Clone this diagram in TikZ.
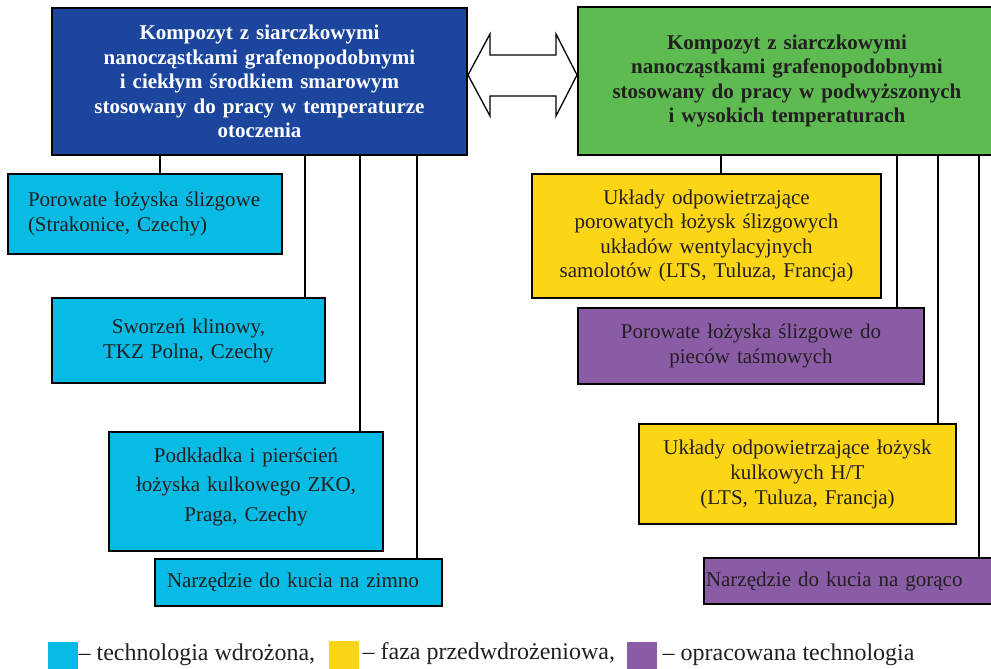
\documentclass[tikz,border=0pt]{standalone}
\usepackage{fontspec}
\setmainfont{Liberation Serif}
\definecolor{topblue}{RGB}{28,70,158}
\definecolor{topgreen}{RGB}{94,187,82}
\definecolor{cyanbox}{RGB}{8,187,228}
\definecolor{yellowbox}{RGB}{252,213,22}
\definecolor{purplebox}{RGB}{139,92,166}
\definecolor{txt}{RGB}{35,31,32}
\begin{document}
\begin{tikzpicture}[x=1pt,y=-1pt,
  box/.style={draw=black, line width=2pt, anchor=north west, inner xsep=4pt, inner ysep=0pt,
    align=center, text=txt, font=\fontsize{21}{25}\selectfont},
  topbox/.style={box, font=\fontsize{21}{24.5}\selectfont\bfseries},
  conn/.style={draw=black, line width=1.3pt},
  legsq/.style={anchor=north west, inner sep=0pt, minimum width=30pt, minimum height=28pt},
  legtxt/.style={anchor=west, inner sep=0pt, text=txt, font=\fontsize{24}{28}\selectfont}]
\useasboundingbox (0,0) rectangle (991,669);

% top boxes
\node[topbox, fill=topblue, text=white, minimum width=415pt, minimum height=147pt, text width=405pt] (topL) at (51,7)
  {Kompozyt z siarczkowymi\\nanocząstkami grafenopodobnymi\\i ciekłym środkiem smarowym\\stosowany do pracy w temperaturze\\otoczenia};
\node[topbox, fill=topgreen, text=txt, minimum width=418pt, minimum height=148pt, text width=408pt] (topR) at (577,6)
  {Kompozyt z siarczkowymi\\nanocząstkami grafenopodobnymi\\stosowany do pracy w podwyższonych\\i wysokich temperaturach\\[12pt]};

% double block arrow
\draw[line width=1.3pt, fill=white] (468,75) -- (490,34) -- (490,55) -- (556,55) -- (556,34) -- (577,75)
  -- (556,116) -- (556,96) -- (490,96) -- (490,116) -- cycle;

% left boxes
\node[box, fill=cyanbox, align=left, inner xsep=20pt, text width=234pt, minimum width=274pt, minimum height=80pt] (L1) at (7,173)
  {Porowate łożyska ślizgowe\\(Strakonice, Czechy)};
\node[box, fill=cyanbox, text width=265pt, minimum width=273pt, minimum height=85pt] (L2) at (51,297)
  {Sworzeń klinowy,\\TKZ Polna, Czechy};
\node[box, fill=cyanbox, font=\fontsize{21}{29.5}\selectfont, text width=266pt, minimum width=274pt, minimum height=119pt] (L3) at (108,431)
  {Podkładka i pierścień\\łożyska kulkowego ZKO,\\Praga, Czechy\par\vspace{10pt}};
\node[box, fill=cyanbox, align=left, inner xsep=12pt, text width=263pt, minimum width=287pt, minimum height=47pt] (L4) at (154,558)
  {Narzędzie do kucia na zimno};

% right boxes
\node[box, fill=yellowbox, font=\fontsize{21}{24.5}\selectfont, text width=341pt, minimum width=349pt, minimum height=124pt] (R1) at (531,173)
  {Układy odpowietrzające\\porowatych łożysk ślizgowych\\układów wentylacyjnych\\samolotów (LTS, Tuluza, Francja)};
\node[box, fill=purplebox, font=\fontsize{21}{24.5}\selectfont, text width=338pt, minimum width=346pt, minimum height=76pt] (R2) at (577,307)
  {Porowate łożyska ślizgowe do\\pieców taśmowych};
\node[box, fill=yellowbox, text width=309pt, minimum width=317pt, minimum height=100pt] (R3) at (638,423)
  {Układy odpowietrzające łożysk\\kulkowych H/T\\(LTS, Tuluza, Francja)};
\node[box, fill=purplebox, align=left, inner xsep=2pt, text width=288pt, minimum width=292pt, minimum height=46pt] (R4) at (703,557)
  {Narzędzie do kucia na gorąco};

% connector x positions
\coordinate (c1) at (160,0);
\coordinate (c2) at (305,0);
\coordinate (c3) at (360,0);
\coordinate (c4) at (417,0);
\coordinate (d1) at (721,0);
\coordinate (d2) at (897,0);
\coordinate (d3) at (938,0);
\coordinate (d4) at (979,0);

\draw[conn] (topL.south -| c1) -- (L1.north -| c1);
\draw[conn] (topL.south -| c2) -- (L2.north -| c2);
\draw[conn] (topL.south -| c3) -- (L3.north -| c3);
\draw[conn] (topL.south -| c4) -- (L4.north -| c4);
\draw[conn] (topR.south -| d1) -- (R1.north -| d1);
\draw[conn] (topR.south -| d2) -- (R2.north -| d2);
\draw[conn] (topR.south -| d3) -- (R3.north -| d3);
\draw[conn] (topR.south -| d4) -- (R4.north -| d4);

% legend
\node[legsq, fill=cyanbox] (k1) at (48,642) {};
\node[legtxt] (t1) at ([yshift=1pt]k1.east) {– technologia wdrożona,};
\node[legsq, fill=yellowbox] (k2) at (329,641) {};
\node[legtxt] (t2) at ([xshift=3pt,yshift=2pt]k2.east) {– faza przedwdrożeniowa,};
\node[legsq, fill=purplebox] (k3) at (627,642) {};
\node[legtxt] (t3) at ([xshift=5pt,yshift=1pt]k3.east) {– opracowana technologia};
\end{tikzpicture}
\end{document}
